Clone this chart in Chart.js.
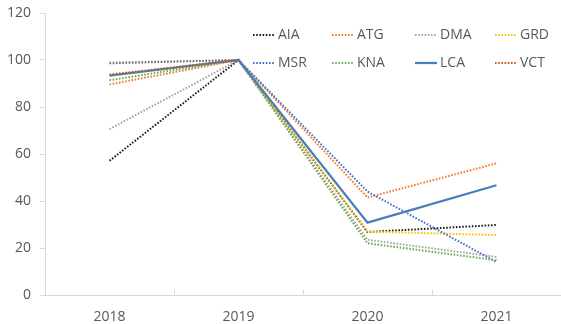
<!DOCTYPE html>
<html>
<head>
<meta charset="utf-8">
<script src="https://cdn.jsdelivr.net/npm/chart.js@4/dist/chart.umd.min.js"></script>
<style>
  html, body { margin: 0; padding: 0; background: #fff; }
  #wrap { width: 561px; height: 324px; }
</style>
</head>
<body>
<div id="wrap"><canvas id="c" width="561" height="324"></canvas></div>
<script>
// Index values per country, 2019 = 100 (null = no figure for that year)
const years = ['2018', '2019', '2020', '2021'];
const yTicks = [0, 20, 40, 60, 80, 100, 120];

const AIA = [57.1, 100, 26.8, 29.8];
const ATG = [89.6, 100, 41.5, 56.0];
const DMA = [70.6, 100, 23.5, 16.2];
const GRD = [99.0, 100, 27.0, 25.5];
const MSR = [98.6, 100, 44.0, 14.0];
const KNA = [91.4, 100, 22.0, 14.8];
const LCA = [93.4, 100, 30.8, 46.7];
const VCT = [93.8, 100, null, null];

const seriesNames = ['AIA', 'ATG', 'DMA', 'GRD', 'MSR', 'KNA', 'LCA', 'VCT'];
const seriesData = [AIA, ATG, DMA, GRD, MSR, KNA, LCA, VCT];
const seriesColors = ['#1f1f1f', '#ED7D31', '#A5A5A5', '#FFC000', '#4472C4', '#70AD47', '#4A7EBB', '#C55A11'];
const solidSeries = ['LCA'];

const FONT = '"Open Sans", "Noto Sans", sans-serif';
const TEXT = '#595959';
const AXIS = '#D9D9D9';

const datasets = seriesNames.map((name, i) => {
  const solid = solidSeries.includes(name);
  return {
    label: name,
    data: seriesData[i],
    borderColor: seriesColors[i],
    backgroundColor: seriesColors[i],
    borderWidth: solid ? 2.25 : 2,
    borderDash: solid ? [] : [1.6, 1.6],
    borderCapStyle: 'butt',
    pointRadius: 0,
    tension: 0,
    fill: false,
    spanGaps: false,
    order: seriesNames.length - i   // later series on top
  };
});

// Legend laid out in a 4-column grid inside the plot area
const gridLegend = {
  id: 'gridLegend',
  afterDraw(chart) {
    const ctx = chart.ctx;
    const cols = [253, 332, 415, 495];
    const rows = [35, 63];
    const sample = 22;
    ctx.save();
    ctx.font = '14px ' + FONT;
    ctx.textBaseline = 'middle';
    ctx.textAlign = 'left';
    chart.data.datasets.forEach((ds, i) => {
      const x = cols[i % 4];
      const y = rows[Math.floor(i / 4)];
      ctx.beginPath();
      ctx.strokeStyle = ds.borderColor;
      ctx.lineWidth = ds.borderWidth;
      ctx.setLineDash(ds.borderDash);
      ctx.lineCap = 'butt';
      ctx.moveTo(x, y);
      ctx.lineTo(x + sample, y);
      ctx.stroke();
      ctx.setLineDash([]);
      ctx.fillStyle = TEXT;
      ctx.fillText(ds.label, x + sample + 3, y + 0.5);
    });
    ctx.restore();
  }
};

// Short inward tick marks on the category axis at category boundaries
const innerTicks = {
  id: 'innerTicks',
  afterDatasetsDraw(chart) {
    const x = chart.scales.x;
    const ctx = chart.ctx;
    const n = chart.data.labels.length;
    const bottom = chart.chartArea.bottom;
    const step = x.getPixelForTick(1) - x.getPixelForTick(0);
    ctx.save();
    ctx.strokeStyle = AXIS;
    ctx.lineWidth = 1;
    for (let i = 0; i <= n; i++) {
      const px = Math.round(x.getPixelForTick(0) + (i - 0.5) * step) + 0.5;
      ctx.beginPath();
      ctx.moveTo(px, bottom);
      ctx.lineTo(px, bottom - 5);
      ctx.stroke();
    }
    ctx.restore();
  }
};

new Chart(document.getElementById('c'), {
  type: 'line',
  data: { labels: years, datasets },
  options: {
    responsive: false,
    animation: false,
    events: [],
    layout: { padding: { top: 13, right: -4, left: 0, bottom: 0 } },
    plugins: {
      legend: { display: false },
      tooltip: { enabled: false }
    },
    scales: {
      x: {
        type: 'category',
        offset: true,
        grid: { display: false, drawTicks: false },
        border: { display: true, color: AXIS, width: 1 },
        ticks: {
          color: TEXT,
          font: { family: FONT, size: 14 },
          padding: 14,
          maxRotation: 0
        },
        afterFit(s) { s.height = 29; s.paddingLeft = 0; s.paddingRight = 0; }
      },
      y: {
        min: 0,
        max: 120,
        afterBuildTicks(s) { s.ticks = yTicks.map(v => ({ value: v })); },
        grid: {
          drawOnChartArea: false,
          drawTicks: true,
          tickLength: 5,
          color: AXIS
        },
        border: { display: true, color: AXIS, width: 1 },
        ticks: {
          color: TEXT,
          font: { family: FONT, size: 14 },
          padding: 9
        },
        afterFit(s) { s.width = 45; s.paddingTop = 0; s.paddingBottom = 0; }
      }
    }
  },
  plugins: [gridLegend, innerTicks]
});
</script>
</body>
</html>
